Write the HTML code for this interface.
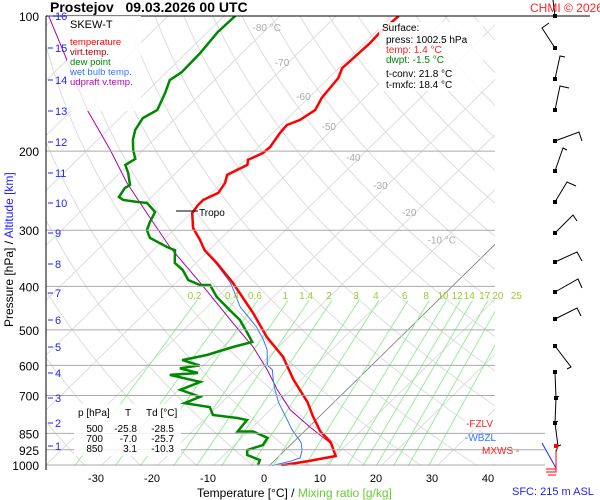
<!DOCTYPE html>
<html><head><meta charset="utf-8">
<style>
html,body{margin:0;padding:0;background:#fff;}
svg{display:block;font-family:"Liberation Sans",sans-serif;}
</style></head>
<body>
<svg id="chart" width="600" height="500" viewBox="0 0 600 500">
<defs><clipPath id="plotclip"><rect x="46" y="16" width="449" height="450"/></clipPath></defs>
<rect x="0" y="0" width="600" height="500" fill="#fff"/>
<g id="grid" clip-path="url(#plotclip)"></g>
<g id="series" clip-path="url(#plotclip)"></g>
<g id="axes"></g>
</svg>
<script>
// ---- data ----
const pressureTicks=[100,200,300,400,500,600,700,850,925,1000];
const extendedPressure=[850,925,1000];
const tempTicks=[-30,-20,-10,0,10,20,30,40];
const altKm=[16,15,14,13,12,11,10,9,8,7,6,5,4,3,2,1];
const altY=[16,48,80,111,142,173,203,233,264,293,320,347,373,398,423,446];
const mixRatios=[0.2,0.4,0.6,1,1.4,2,3,4,6,8,10,12,14,17,20,25];
const isoLabels=[-80,-70,-60,-50,-40,-30,-20,-10];
const isoLabelP=[105.8,126.6,150.7,175.8,206,238,273,315];

const tempP=[100,108.6,114.9,130.6,137.4,152.3,161.9,170.4,174.9,182.2,195.8,201.9,209.2,214.6,220.2,225.9,235.4,247.7,256.8,263.5,274.6,296.6,315.3,332.3,354.9,393,458.7,518.6,574,645,725,779,842,890,955,980,1002.5];
const tempT=[-58.8,-59.2,-59.0,-59.4,-58.3,-57.6,-56.6,-57.5,-58.9,-58.7,-57.9,-58.1,-59.5,-58.7,-59.6,-60.5,-59.4,-58.8,-60.2,-60.2,-59.8,-56.9,-53.5,-50.8,-46.3,-39.8,-30.7,-23.9,-17.4,-11.4,-4.7,-1.2,2.9,6.7,10.1,6.1,2.0];

const dewP=[100,108.6,120.9,133.3,138.9,148.4,161.9,168.8,179.4,188.8,198.8,208.1,214.6,223.7,237.9,241.4,253,256.8,259.5,260.8,273.2,287.6,299.6,312.1,326.9,332.3,354.9,367.8,387.2,397.2,397.2,422.6,451.8,475.3,508,532,546,569,584,600,609,624,630,653,680,705,728,743,774,786,794,842,842,870,903,926,950,975,1002.5];
const dewT=[-88.0,-88.2,-87.5,-87.3,-88.0,-86.5,-84.8,-85.9,-85.1,-83.7,-81.8,-79.8,-80.5,-78.5,-76.0,-76.4,-75.8,-74.5,-71.7,-69.7,-66.6,-65.7,-64.8,-62.8,-58.1,-56.1,-53.8,-51.1,-48.3,-45.3,-43.5,-40.1,-35.4,-31.8,-28.1,-25.6,-28.1,-31.3,-34.8,-30.7,-33.7,-29.6,-34.3,-27.6,-29.7,-24.9,-26.5,-21.3,-19.3,-14.4,-12.3,-11.9,-9.1,-5.4,-4.9,-6.8,-5.9,-2.7,-2.1];

const wetP=[100,108.6,114.9,130.6,137.4,152.3,161.9,170.4,174.9,182.2,195.8,201.9,209.2,214.6,220.2,225.9,235.4,247.7,256.8,263.5,274.6,296.6,315.3,332.3,354.9,393,444.8,493,526,554,600,614,647,680,725,779,836,890,926,964,980,1002.5];
const wetT=[-58.9,-59.3,-59.1,-59.5,-58.4,-57.7,-56.7,-57.6,-59.0,-58.8,-58.0,-58.2,-59.6,-58.8,-59.7,-60.6,-59.5,-58.9,-60.3,-60.3,-59.9,-57.0,-53.6,-50.9,-46.5,-40.2,-34.1,-27.5,-24.0,-21.5,-18.6,-16.9,-14.9,-12.8,-9.9,-6.1,-2.4,1.4,3.0,4.1,3.0,0.5];

const updP=[100,119,161.9,198.8,235.5,274.6,326.9,393,482.6,546,614,680,754,823,903];
const updT=[-121.3,-112.6,-97.3,-85.9,-76.9,-67.9,-57.6,-45.6,-32.5,-24.5,-17.8,-12.4,-6.4,0.2,7.6];

// ---- axis functions ----
const Y=p=>16+195*Math.log(p/100);
const X=(T,p)=>270+5.6*T+1.02*(465-Y(p));
const NS="http://www.w3.org/2000/svg";
function mk(tag,attrs,parent,txt){const e=document.createElementNS(NS,tag);for(const k in attrs)e.setAttribute(k,attrs[k]);if(txt!==undefined)e.textContent=txt;parent.appendChild(e);return e;}
const grid=document.getElementById('grid'),ser=document.getElementById('series'),ax=document.getElementById('axes');

// isotherms
for(let T=-160;T<=60;T+=10){
  const l=mk('line',{x1:X(T,1050),y1:Y(1050),x2:X(T,90),y2:Y(90),stroke:T===0?'#777':'#ddd','stroke-width':T===0?0.8:1},grid);
  
  
}
// dry adiabats
for(let th=230;th<=520;th+=10){
  let d='';
  for(let p=1050;p>=90;p-=10){const T=th*Math.pow(p/1000,0.286)-273.15;d+=(d?'L':'M')+X(T,p).toFixed(1)+','+Y(p).toFixed(1);}
  const a=mk('path',{d:d,fill:'none',stroke:'#ddd','stroke-width':1},grid);
  
  
}
// mixing ratio lines
function tdFor(w,p){const e=w*p/(622+w);const l=Math.log(e/6.112);return 243.5*l/(17.67-l);}
mixRatios.forEach(w=>{
  const m=mk('line',{x1:X(tdFor(w,1050),1050),y1:Y(1050),x2:X(tdFor(w,430),430),y2:Y(430),stroke:'#9e9','stroke-width':1},grid);
  
  
  const t=mk('text',{x:X(tdFor(w,420),420)-6,y:299,fill:'#9c3','font-size':10,'text-anchor':'middle'},ax,String(w));
  
  
});
// isotherm labels
isoLabels.forEach((T,i)=>{
  const withUnit=(i===0||i===isoLabels.length-1);
  const t=mk('text',{x:X(T,isoLabelP[i])-(withUnit?2:7),y:Y(isoLabelP[i])+4,fill:'#aaa','font-size':10,'text-anchor':'middle'},ax,withUnit?T+' °C':String(T));
  
  
});
// pressure lines
pressureTicks.forEach(p=>{
  const x2=p===100?590:(extendedPressure.includes(p)?545:495);
  const l=mk('line',{x1:46,y1:Y(p),x2:x2,y2:Y(p),stroke:p===100?'#000':'#aaa','stroke-width':1},ax);
  
  
  const t=mk('text',{x:39,y:Y(p)+5,'font-size':12,'text-anchor':'end',fill:'#000'},ax,String(p));
  
  
});
const yl=mk('line',{x1:46,y1:16,x2:46,y2:470,stroke:'#000','stroke-width':1},ax);


// altitude ticks
altKm.forEach((k,i)=>{
  const l=mk('line',{x1:48,y1:altY[i],x2:53,y2:altY[i],stroke:'#22f','stroke-width':1},ax);
  
  
  const t=mk('text',{x:55,y:altY[i]+4,'font-size':11,fill:'#22f'},ax,String(k));
  
  
});
// temperature tick labels
tempTicks.forEach(T=>{
  const t=mk('text',{x:264+5.6*T,y:482,'font-size':11,'text-anchor':'middle',fill:'#000'},ax,String(T));
  
  
});
// series
function pathOf(ps,ts){return ps.map((p,i)=>(i?'L':'M')+X(ts[i],p).toFixed(1)+','+Y(p).toFixed(1)).join('');}
const upd=mk('path',{d:pathOf(updP,updT),fill:'none',stroke:'#a0a','stroke-width':1},ser);


const dew=mk('path',{d:pathOf(dewP,dewT),fill:'none',stroke:'#080','stroke-width':2.5},ser);


const wet=mk('path',{d:pathOf(wetP,wetT),fill:'none',stroke:'#37f','stroke-width':1},ser);


const tmp=mk('path',{d:pathOf(tempP,tempT),fill:'none',stroke:'#f00','stroke-width':2.5},ser);


</script>

<svg width="600" height="500" style="position:absolute;left:0;top:0;font-family:'Liberation Sans',sans-serif">
<text x="50" y="12" font-size="14" font-weight="bold">Prostejov&#160;&#160;&#160;09.03.2026 00 UTC</text>
<text x="530" y="12" font-size="12" fill="#f22">CHMI © 2026</text>
<g>
<rect x="67" y="16" width="74" height="95" fill="#fff" opacity="0.85"/>
<text x="70" y="28" font-size="11">SKEW-T</text>
<text x="70" y="45" font-size="9.5" fill="#f00">temperature</text>
<text x="70" y="55" font-size="9.5" fill="#a00">virt.temp.</text>
<text x="70" y="65" font-size="9.5" fill="#080">dew point</text>
<text x="70" y="75" font-size="9.5" fill="#37f">wet bulb temp.</text>
<text x="70" y="85" font-size="9.5" fill="#b0b">udpraft v.temp.</text>
</g>
<g>
<rect x="379" y="22" width="104" height="69" fill="#fff" opacity="0.85"/>
<text x="382" y="31" font-size="10">Surface:</text>
<text x="386" y="43" font-size="10">press: 1002.5 hPa</text>
<text x="386" y="53" font-size="10" fill="#f22">temp: 1.4 °C</text>
<text x="386" y="63" font-size="10" fill="#080">dwpt: -1.5 °C</text>
<text x="386" y="77" font-size="10">t-conv: 21.8 °C</text>
<text x="386" y="88" font-size="10">t-mxfc: 18.4 °C</text>
</g>
<g>
<line x1="176" y1="211" x2="198" y2="211" stroke="#000"/>
<text x="199" y="216" font-size="10">Tropo</text>
</g>
<g>
<rect x="74" y="404" width="107" height="52" fill="#fff" opacity="0.85"/>
<text x="78" y="416" font-size="10">p [hPa]</text><text x="125" y="416" font-size="10">T</text><text x="146" y="416" font-size="10">Td [°C]</text>
<text x="103" y="432" font-size="10" text-anchor="end">500</text><text x="137" y="432" font-size="10" text-anchor="end">-25.8</text><text x="174" y="432" font-size="10" text-anchor="end">-28.5</text>
<text x="103" y="442" font-size="10" text-anchor="end">700</text><text x="137" y="442" font-size="10" text-anchor="end">-7.0</text><text x="174" y="442" font-size="10" text-anchor="end">-25.7</text>
<text x="103" y="452" font-size="10" text-anchor="end">850</text><text x="137" y="452" font-size="10" text-anchor="end">3.1</text><text x="174" y="452" font-size="10" text-anchor="end">-10.3</text>
</g>
<g>
<rect x="465" y="416" width="42" height="14" fill="#fff"/>
<text x="466" y="427" font-size="10" fill="#f22">-FZLV</text>
<text x="465" y="441" font-size="10" fill="#37f">-WBZL</text>
<text x="482" y="454" font-size="10" fill="#f22">MXWS -</text>
</g>
<g stroke="#000" stroke-width="1" fill="none">
<path d="M555,16L553,0"/>
<path d="M555,48L542,28L549,23"/>
<path d="M555,79L560,56L565,57"/>
<path d="M555,110L560,86L569,88"/>
<path d="M555,141L579,132L582,141"/>
<path d="M555,171L563,148L567,150"/>
<path d="M555,202L567,182L576,186"/>
<path d="M555,233L573,215L577,221"/>
<path d="M555,262L577,252L582,261"/>
<path d="M555,292L578,279L582,288"/>
<path d="M555,319L577,308L581,316"/>
<path d="M555,346L571,367L567,369"/>
<path d="M555,372L556,398L555,423L558,446L556,452"/>
<path d="M556,398L559,396M555,423L558,421M558,446L561,445"/>
<line x1="542" y1="443" x2="556" y2="468" stroke="#22f"/>
<path d="M556,450L556,472L546,472M556,469L546,469M556,475L548,475" stroke="#f00"/>
<g fill="#000" stroke="none">
<rect x="553" y="14" width="4" height="4"/><rect x="553" y="46" width="4" height="4"/><rect x="553" y="77" width="4" height="4"/><rect x="553" y="108" width="4" height="4"/><rect x="553" y="139" width="4" height="4"/><rect x="553" y="169" width="4" height="4"/><rect x="553" y="200" width="4" height="4"/><rect x="553" y="231" width="4" height="4"/><rect x="553" y="260" width="4" height="4"/><rect x="553" y="290" width="4" height="4"/><rect x="553" y="317" width="4" height="4"/><rect x="553" y="344" width="4" height="4"/><rect x="553" y="370" width="4" height="4"/><rect x="554" y="396" width="4" height="4"/><rect x="553" y="421" width="4" height="4"/><rect x="554" y="444" width="4" height="4" fill="#f00"/>
</g>
</g>
<text x="8" y="0" font-size="12" transform="translate(13,335) rotate(-90)"><tspan fill="#000">Pressure [hPa]</tspan><tspan fill="#000">  /  </tspan><tspan fill="#22f">Altitude [km]</tspan></text>
<text x="197" y="497" font-size="12"><tspan fill="#000">Temperature [°C]  /  </tspan><tspan fill="#6c3">Mixing ratio [g/kg]</tspan></text>
<text x="512" y="495" font-size="11" fill="#22f">SFC: 215 m ASL</text>
</svg>
</body></html>
